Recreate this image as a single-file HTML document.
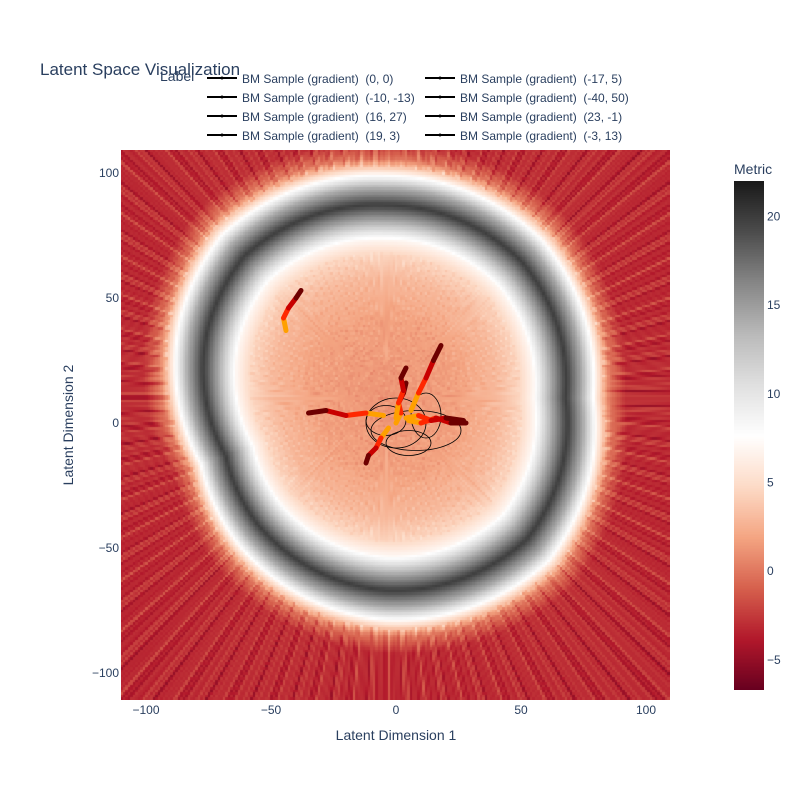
<!DOCTYPE html>
<html><head><meta charset="utf-8">
<style>
body{margin:0;background:#fff;font-family:"Liberation Sans",sans-serif;}
#wrap{position:relative;width:800px;height:800px;overflow:hidden;}
svg text{font-family:"Liberation Sans",sans-serif;fill:#2a3f5f;white-space:pre;}
#heat{position:absolute;left:121px;top:150px;width:549px;height:550px;}
#cb{position:absolute;left:734px;top:181px;width:30px;height:509px;}
</style></head><body>
<div id="wrap">
<canvas id="heat" width="549" height="550"></canvas>
<canvas id="cb" width="30" height="509"></canvas>
<svg id="svg" width="800" height="800" style="position:absolute;left:0;top:0">
<text x="40" y="75" font-size="17">Latent Space Visualization</text>
<text x="396" y="740" font-size="14" text-anchor="middle">Latent Dimension 1</text>
<text x="73" y="425" font-size="14" text-anchor="middle" transform="rotate(-90 73 425)">Latent Dimension 2</text>
<text x="734" y="174" font-size="14">Metric</text>
<text x="160" y="81" font-size="14">Label</text>
<g id="axes"></g><g id="contours"></g><g id="trajs"></g><g id="legend"></g>
</svg>
</div>
<script>
// data
const ringAngles=[0,45,90,135,160,180,200,225,270,315,360];
const ringRadii=[72,77,77,80,76,72,68,72,77,80,72];
const profileD=[0,0.4,0.62,0.74,0.82,0.91,1.0,1.09,1.17,1.24,1.33,3];
const profileV=[1.2,1.8,3,4.5,7,14,20,14,6,0,-3,-3.5];
const xTicks=[-100,-50,0,50,100];
const yTicks=[-100,-50,0,50,100];
const cbTicks=[-5,0,5,10,15,20];
const legendLabels=["BM Sample (gradient)  (0, 0)","BM Sample (gradient)  (-17, 5)","BM Sample (gradient)  (-10, -13)","BM Sample (gradient)  (-40, 50)","BM Sample (gradient)  (16, 27)","BM Sample (gradient)  (23, -1)","BM Sample (gradient)  (19, 3)","BM Sample (gradient)  (-3, 13)"];
const trajX=[[0,2,1,3,4],[-5,-12,-20,-28,-35],[-3,-6,-8,-11,-12],[-44,-45,-43,-40,-38],[6,9,12,15,18],[5,10,16,22,28],[4,9,14,20,27],[0,1,3,2,4]];
const trajY=[[0,4,8,12,16],[3,4,3,5,4],[-2,-6,-10,-13,-16],[37,42,46,50,53],[5,12,18,25,31],[1,0,2,0,0],[2,3,1,2,1],[2,8,13,18,22]];
const cX=[0,8,-4,12,5];const cY=[0,-3,1,3,-8];const cRx=[12,18,8,6,9];const cRy=[10,8,6,9,5];

const xmin=-110,xmax=109.6,ymin=-110.8,ymax=109.2,cx0=-4,cy0=10;
const px=x=>121+(x-xmin)/(xmax-xmin)*549, py=y=>150+(ymax-y)/(ymax-ymin)*550;
const cs=[[103,0,31],[178,24,43],[214,96,77],[244,165,130],[253,219,199],[255,255,255],[224,224,224],[186,186,186],[135,135,135],[77,77,77],[26,26,26]];
const vmin=-6.7,vmax=22;
function col(v){let t=Math.max(0,Math.min(1,(v-vmin)/(vmax-vmin)))*10;let i=Math.min(9,Math.floor(t)),f=t-i;return cs[i].map((c,k)=>Math.round(c+(cs[i+1][k]-c)*f));}
function interp(xs,ys,x){for(let i=1;i<xs.length;i++)if(x<=xs[i]){const f=(x-xs[i-1])/(xs[i]-xs[i-1]);return ys[i-1]+f*(ys[i]-ys[i-1]);}return ys[ys.length-1];}
const hc=document.getElementById('heat').getContext('2d');
const N=220,cw=549/N,ch=550/N;
for(let i=0;i<N;i++)for(let j=0;j<N;j++){
 const x=xmin+(i+0.5)/N*(xmax-xmin),y=ymax-(j+0.5)/N*(ymax-ymin);
 const dx=x-cx0,dy=y-cy0,r=Math.hypot(dx,dy);let a=Math.atan2(dy,dx)*180/Math.PI;if(a<0)a+=360;
 const R=interp(ringAngles,ringRadii,a),d=r/R;
 let v=interp(profileD,profileV,d);
 const streak=Math.sin(a*0.9)*Math.sin(a*2.3+1)*Math.sin(a*5.1);
 if(d>1.2)v+=streak*2.0;else if(d<0.75)v+=streak*0.8;
 const c=col(v);hc.fillStyle=`rgb(${c})`;hc.fillRect(Math.floor(i*cw),Math.floor(j*ch),Math.ceil(cw)+1,Math.ceil(ch)+1);
}
const cb=document.getElementById('cb').getContext('2d');
for(let k=0;k<509;k++){const v=vmax-k/509*(vmax-vmin);cb.fillStyle=`rgb(${col(v)})`;cb.fillRect(0,k,30,1);}
const NS='http://www.w3.org/2000/svg';
function mk(t,at,p){const e=document.createElementNS(NS,t);for(const k in at)e.setAttribute(k,at[k]);p.appendChild(e);return e;}
const axes=document.getElementById('axes');
xTicks.forEach(v=>{const t=mk('text',{x:px(v),y:714,'font-size':12,'text-anchor':'middle'},axes);t.textContent=String(v).replace('-','\u2212');

});
yTicks.forEach(v=>{const t=mk('text',{x:119,y:py(v)+4,'font-size':12,'text-anchor':'end'},axes);t.textContent=String(v).replace('-','\u2212');

});
cbTicks.forEach(v=>{const t=mk('text',{x:767,y:181+(vmax-v)/(vmax-vmin)*509+4,'font-size':12},axes);t.textContent=String(v).replace('-','\u2212');

});
const cg=document.getElementById('contours');
cX.forEach((x,i)=>{const e=mk('ellipse',{cx:px(x),cy:py(cY[i]),rx:cRx[i]*2.5,ry:cRy[i]*2.5,fill:'none',stroke:'#000','stroke-width':0.8},cg);

});
const tg=document.getElementById('trajs');
const tc=[[255,255,0],[255,160,0],[255,40,0],[200,0,0],[110,0,0]];
trajX.forEach((xs,s)=>{const g=mk('g',{},tg);


for(let i=1;i<xs.length;i++){mk('line',{x1:px(xs[i-1]),y1:py(trajY[s][i-1]),x2:px(xs[i]),y2:py(trajY[s][i]),stroke:`rgb(${tc[i]})`,'stroke-width':5,'stroke-linecap':'round'},g);}});
const lg=document.getElementById('legend');
legendLabels.forEach((l,i)=>{const col=i%2,row=Math.floor(i/2);const x=col?425:207,y=78+row*19;
const g=mk('g',{},lg);


mk('line',{x1:x,y1:y,x2:x+30,y2:y,stroke:'#000','stroke-width':2},g);
mk('circle',{cx:x+15,cy:y,r:1.5,fill:'#000'},g);
const t=mk('text',{x:x+35,y:y+5,'font-size':12},g);t.textContent=l;});
</script>
</body></html>
